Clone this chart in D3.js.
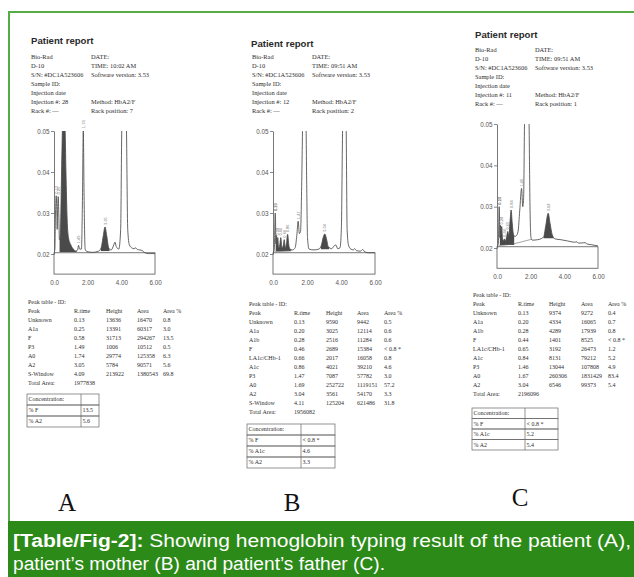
<!DOCTYPE html>
<html><head><meta charset="utf-8">
<script src="https://cdn.jsdelivr.net/npm/d3@7"></script>
<style>body{margin:0;background:#fff}</style>
</head><body><svg id="c" width="634" height="577"></svg>
<script>
// ---------------- DATA ----------------
const titleText = "Patient report";
const yTicks = [0.02, 0.03, 0.04, 0.05];
const yTickLabels = ["0.02", "0.03", "0.04", "0.05"];
const xTicks = [0, 2, 4, 6];
const xTickLabels = ["0.0", "2.00", "4.00", "6.00"];
const tableHeader = ["Peak", "R.time", "Height", "Area", "Area %"];
const panelLetters = ["A", "B", "C"];
const captionBold = "[Table/Fig-2]:";
const captionLine1 = " Showing hemoglobin typing result of the patient (A),";
const captionLine2 = "patient’s mother (B) and patient’s father (C).";

const headerLeftA = ["Bio-Rad", "D-10", "S/N: #DC1A523606", "Sample ID:", "Injection date", "Injection #: 28", "Rack #: —"];
const headerRightA = ["DATE:", "TIME:  10:02 AM", "Software version: 3.53", "", "", "Method: HbA2/F", "Rack position: 7"];
const headerLeftB = ["Bio-Rad", "D-10", "S/N: #DC1A523606", "Sample ID:", "Injection date", "Injection #: 12", "Rack #: —"];
const headerRightB = ["DATE:", "TIME:  09:51 AM", "Software version: 3.53", "", "", "Method: HbA2/F", "Rack position: 2"];
const headerLeftC = ["Bio-Rad", "D-10", "S/N: #DC1A523606", "Sample ID:", "Injection date", "Injection #: 11", "Rack #: —"];
const headerRightC = ["DATE:", "TIME:  09:51 AM", "Software version: 3.53", "", "", "Method: HbA2/F", "Rack position: 1"];

// chromatogram traces: [time (min), absorbance]
const traceA = [[0.00,0.0205],[0.05,0.0210],[0.09,0.0300],[0.13,0.0342],[0.17,0.0300],[0.19,0.0260],[0.21,0.0300],[0.25,0.0340],[0.29,0.0290],[0.32,0.0235],[0.37,0.0240],[0.45,0.0400],[0.51,0.0520],[0.58,0.0560],[0.65,0.0520],[0.71,0.0400],[0.78,0.0285],[0.86,0.0240],[1.00,0.0222],[1.15,0.0212],[1.30,0.0207],[1.40,0.0210],[1.46,0.0221],[1.52,0.0212],[1.63,0.0212],[1.69,0.0330],[1.74,0.0502],[1.79,0.0330],[1.85,0.0212],[1.95,0.0206],[2.30,0.0204],[2.65,0.0207],[2.80,0.0215],[2.93,0.0245],[3.03,0.0266],[3.13,0.0245],[3.25,0.0215],[3.40,0.0210],[3.55,0.0222],[3.62,0.0229],[3.70,0.0218],[3.85,0.0212],[3.96,0.0260],[4.03,0.0520],[4.12,0.0620],[4.22,0.0620],[4.30,0.0520],[4.38,0.0260],[4.48,0.0222],[4.62,0.0215],[4.75,0.0213],[4.85,0.0215],[4.95,0.0211],[5.10,0.0210],[5.25,0.0208],[5.40,0.0203],[5.60,0.0201],[6.00,0.0201]];
const traceB = [[0.00,0.0205],[0.08,0.0210],[0.11,0.0280],[0.13,0.0300],[0.15,0.0280],[0.17,0.0225],[0.20,0.0245],[0.24,0.0220],[0.28,0.0240],[0.33,0.0215],[0.40,0.0222],[0.46,0.0240],[0.52,0.0215],[0.60,0.0220],[0.66,0.0235],[0.72,0.0215],[0.80,0.0228],[0.86,0.0248],[0.93,0.0222],[1.00,0.0212],[1.15,0.0210],[1.30,0.0215],[1.40,0.0245],[1.48,0.0280],[1.55,0.0250],[1.62,0.0255],[1.70,0.0400],[1.76,0.0560],[1.85,0.0620],[1.93,0.0560],[1.98,0.0380],[2.03,0.0240],[2.12,0.0212],[2.40,0.0210],[2.70,0.0212],[2.85,0.0222],[2.95,0.0240],[3.05,0.0249],[3.14,0.0238],[3.25,0.0218],[3.45,0.0213],[3.60,0.0220],[3.70,0.0222],[3.80,0.0213],[3.94,0.0215],[4.02,0.0260],[4.10,0.0520],[4.20,0.0620],[4.30,0.0520],[4.36,0.0260],[4.44,0.0222],[4.58,0.0212],[4.72,0.0210],[4.80,0.0213],[4.92,0.0208],[5.15,0.0207],[5.28,0.0211],[5.38,0.0206],[5.60,0.0203],[6.00,0.0203]];
const traceC = [[0.00,0.0205],[0.08,0.0210],[0.11,0.0270],[0.13,0.0300],[0.15,0.0270],[0.17,0.0225],[0.20,0.0255],[0.24,0.0230],[0.28,0.0252],[0.33,0.0222],[0.40,0.0218],[0.44,0.0222],[0.50,0.0217],[0.58,0.0228],[0.64,0.0240],[0.70,0.0228],[0.77,0.0262],[0.84,0.0292],[0.90,0.0262],[0.97,0.0235],[1.05,0.0228],[1.15,0.0230],[1.25,0.0240],[1.35,0.0290],[1.46,0.0344],[1.53,0.0300],[1.58,0.0320],[1.64,0.0520],[1.72,0.0620],[1.82,0.0620],[1.90,0.0520],[1.96,0.0300],[2.02,0.0225],[2.10,0.0219],[2.40,0.0220],[2.65,0.0223],[2.78,0.0228],[2.90,0.0255],[3.04,0.0284],[3.15,0.0260],[3.28,0.0232],[3.45,0.0222],[3.80,0.0220],[4.20,0.0217],[4.60,0.0214],[4.75,0.0215],[4.82,0.0212],[5.00,0.0212],[5.25,0.0213],[5.32,0.0210],[5.60,0.0208],[6.00,0.0205]];

// shaded (integrated) regions: [start, end, baseline level]
const shadeA = [[0.33,1.35,0.0205],[2.78,3.30,0.0207]];
const shadeB = [[0.16,1.05,0.0206],[2.82,3.30,0.0211]];
const shadeC = [[0.17,1.02,0.0207],[2.76,3.42,0.0223]];
// integrator baseline drawn under peaks
const baseB = [[0.05,0.0205],[1.10,0.0209]];
const baseC = [[0.05,0.0205],[1.00,0.0210],[2.04,0.0221]];

const tableA = [
  ["Unknown","0.13","13636","16470","0.8"],
  ["A1a","0.25","13391","60317","3.0"],
  ["F","0.58","31713","294267","13.5"],
  ["P3","1.49","1006","10512","0.5"],
  ["A0","1.74","29774","125358","6.3"],
  ["A2","3.05","5784","90571","5.6"],
  ["S-Window","4.09","213922","1380543","69.8"]];
const totalA = "1977838";
const tableB = [
  ["Unknown","0.13","9590","9442","0.5"],
  ["A1a","0.20","3025","12114","0.6"],
  ["A1b","0.28","2516","11284","0.6"],
  ["F","0.46","2689","15384","< 0.8 *"],
  ["LA1c/CHb-1","0.66","2017","16058","0.8"],
  ["A1c","0.86","4021","39210","4.6"],
  ["P3","1.47","7087","57782","3.0"],
  ["A0","1.69","252722","1119151","57.2"],
  ["A2","3.04","3561","54170","3.3"],
  ["S-Window","4.11","125204","621486","31.8"]];
const totalB = "1956082";
const tableC = [
  ["Unknown","0.13","9374","9272","0.4"],
  ["A1a","0.20","4334","16065","0.7"],
  ["A1b","0.28","4289","17939","0.8"],
  ["F","0.44","1401","8525","< 0.8 *"],
  ["LA1c/CHb-1","0.65","3192","26473","1.2"],
  ["A1c","0.84","8131","79212","5.2"],
  ["P3","1.46","13044","107808","4.9"],
  ["A0","1.67","260306","1831429","83.4"],
  ["A2","3.04","6546","99373","5.4"]];
const totalC = "2196096";

const concA = [["Concentration:",""],["% F","13.5"],["% A2","5.6"]];
const concB = [["Concentration:",""],["% F","< 0.8 *"],["% A1c","4.6"],["% A2","3.3"]];
const concC = [["Concentration:",""],["% F","< 0.8 *"],["% A1c","5.2"],["% A2","5.4"]];

// ---------------- LAYOUT ----------------
const panels = [
  {key:"A", title:[31,44], hdr:{lx:31,rx:91,y:59}, chart:{x0:54,x6:155,y05:131,y02:254},
   table:{cols:[28,74,106,137,163], y:304}, conc:{x:27,xd:81,xr:99,y:394,rh:11}, letter:[67,511],
   trace:traceA, shade:shadeA, base:null, rows:tableA, total:totalA, concRows:concA, hl:headerLeftA, hr:headerRightA},
  {key:"B", title:[251,47], hdr:{lx:252,rx:312,y:59}, chart:{x0:273,x6:375,y05:131,y02:254},
   table:{cols:[249,294,326,357,384], y:306}, conc:{x:247,xd:301,xr:335,y:424,rh:11}, letter:[292,511],
   trace:traceB, shade:shadeB, base:baseB, rows:tableB, total:totalB, concRows:concB, hl:headerLeftB, hr:headerRightB},
  {key:"C", title:[475,38], hdr:{lx:475,rx:535,y:52}, chart:{x0:497,x6:598,y05:124,y02:248},
   table:{cols:[473,518,549,581,608], y:297}, conc:{x:472,xd:525,xr:558,y:408,rh:10.5}, letter:[520,506],
   trace:traceC, shade:shadeC, base:baseC, rows:tableC, total:totalC, concRows:concC, hl:headerLeftC, hr:headerRightC}
];

const svg = d3.select("#c");
const defs = svg.append("defs");
const serif = "'Liberation Serif','Times New Roman',serif";
const sans = "'Liberation Sans',Arial,sans-serif";
const ink = "#2e2e2e";

// frame
svg.append("path").attr("d","M9,521 V12 H634").attr("fill","none").attr("stroke","#55ab44").attr("stroke-width",2);

function drawPanel(p, idx){
  const g = svg.append("g");
  g.append("text").attr("x",p.title[0]).attr("y",p.title[1]).attr("font-family",sans)
    .attr("font-weight","bold").attr("font-size",9.6).attr("fill","#2a2a2a").text(titleText);
  p.hl.forEach((t,i)=> g.append("text").attr("x",p.hdr.lx).attr("y",p.hdr.y+i*9)
    .attr("font-family",serif).attr("font-size",6.4).attr("fill",ink).text(t));
  p.hr.forEach((t,i)=> g.append("text").attr("x",p.hdr.rx).attr("y",p.hdr.y+i*9)
    .attr("font-family",serif).attr("font-size",6.4).attr("fill",ink).text(t));

  const c = p.chart;
  const x = d3.scaleLinear().domain([0,6]).range([c.x0,c.x6]);
  const y = d3.scaleLinear().domain([0.02,0.05]).range([c.y02,c.y05]);
  const yBot = y(0.0151), yTop = y(0.0203);
  const clipId = "clip"+p.key;
  defs.append("clipPath").attr("id",clipId).append("rect")
    .attr("x",c.x0).attr("y",c.y05).attr("width",c.x6-c.x0).attr("height",yBot-c.y05);

  // box below baseline
  g.append("rect").attr("x",c.x0).attr("y",yTop).attr("width",c.x6-c.x0).attr("height",yBot-yTop)
    .attr("fill","none").attr("stroke","#555").attr("stroke-width",0.8);

  // shaded peaks
  p.shade.forEach((s,i)=>{
    const id = "sh"+p.key+i;
    defs.append("clipPath").attr("id",id).append("rect")
      .attr("x",x(s[0])).attr("y",c.y05).attr("width",x(s[1])-x(s[0])).attr("height",y(s[2])-c.y05);
    g.append("path").datum(p.trace).attr("clip-path",`url(#${id})`)
      .attr("d", d3.area().x(d=>x(d[0])).y0(y(s[2])).y1(d=>y(d[1])).curve(d3.curveMonotoneX))
      .attr("fill","#4a4a4a");
  });
  if (p.base) {
    g.append("path").datum(p.base).attr("d", d3.line().x(d=>x(d[0])).y(d=>y(d[1])))
      .attr("fill","none").attr("stroke","#666").attr("stroke-width",0.6);
  }
  g.append("path").datum(p.trace).attr("clip-path",`url(#${clipId})`)
    .attr("d", d3.line().x(d=>x(d[0])).y(d=>y(d[1])).curve(d3.curveMonotoneX))
    .attr("fill","none").attr("stroke","#4a4a4a").attr("stroke-width",0.85);

  // peak retention-time labels
  p.rows.forEach(r=>{
    const rt = +r[1];
    const near = p.trace.filter(d=>Math.abs(d[0]-rt)<=0.08);
    if (!near.length) return;
    const apex = near.reduce((a,b)=> b[1]>a[1]?b:a);
    if (apex[1] > 0.0508) return;
    const lx = x(apex[0]), ly = y(apex[1]) - 2;
    g.append("text").attr("transform",`translate(${lx+1.5},${ly}) rotate(-90)`)
      .attr("font-family",sans).attr("font-size",4).attr("fill","#777").text(r[1]);
  });

  // axes
  const ya = g.append("g").attr("transform",`translate(${c.x0},0)`)
    .call(d3.axisLeft(y).tickValues(yTicks).tickFormat((d,i)=>yTickLabels[i]).tickSize(3).tickSizeOuter(0).tickPadding(1.5));
  ya.select(".domain").attr("stroke","#555").attr("stroke-width",0.8);
  ya.selectAll(".tick line").attr("stroke","#555").attr("stroke-width",0.7);
  ya.selectAll("text").attr("font-family",sans).attr("font-size",6.3).attr("fill","#555");
  const xa = g.append("g").attr("transform",`translate(0,${yBot})`)
    .call(d3.axisBottom(x).tickValues(xTicks).tickFormat((d,i)=>xTickLabels[i]).tickSize(0).tickPadding(6));
  xa.select(".domain").remove();
  xa.selectAll("text").attr("font-family",sans).attr("font-size",6.3).attr("fill","#555");

  // peak table
  const t = p.table, fs = 6;
  const tt = (xx,yy,s)=> g.append("text").attr("x",xx).attr("y",yy).attr("font-family",serif)
    .attr("font-size",fs).attr("fill",ink).text(s);
  tt(t.cols[0], t.y, "Peak table  -  ID:");
  tableHeader.forEach((h,j)=> tt(t.cols[j], t.y+9, h));
  p.rows.forEach((r,i)=> r.forEach((v,j)=> tt(t.cols[j], t.y+18+i*9, v)));
  tt(t.cols[0], t.y+18+p.rows.length*9, "Total Area:");
  tt(t.cols[1], t.y+18+p.rows.length*9, p.total);

  // concentration box
  const k = p.conc;
  p.concRows.forEach((r,i)=>{
    const ry = k.y + i*k.rh;
    g.append("rect").attr("x",k.x).attr("y",ry).attr("width",k.xr-k.x).attr("height",k.rh)
      .attr("fill","none").attr("stroke","#666").attr("stroke-width",0.7);
    g.append("line").attr("x1",k.xd).attr("x2",k.xd).attr("y1",ry).attr("y2",ry+k.rh)
      .attr("stroke","#666").attr("stroke-width",0.7);
    tt(k.x+1.5, ry+k.rh*0.68, r[0]);
    tt(k.xd+1.5, ry+k.rh*0.68, r[1]);
  });

  svg.append("text").attr("x",p.letter[0]).attr("y",p.letter[1]).attr("text-anchor","middle")
    .attr("font-family",serif).attr("font-size",25).attr("fill","#111").text(panelLetters[idx]);
}
panels.forEach(drawPanel);

// caption band
svg.append("rect").attr("x",8).attr("y",521).attr("width",626).attr("height",56).attr("fill","#2b8a18");
const cap1 = svg.append("text").attr("x",13).attr("y",547).attr("font-family",sans)
  .attr("font-size",18).attr("fill","#fff").attr("textLength",618).attr("lengthAdjust","spacingAndGlyphs");
cap1.append("tspan").attr("font-weight","bold").text(captionBold);
cap1.append("tspan").text(captionLine1);
svg.append("text").attr("x",13).attr("y",570).attr("font-family",sans)
  .attr("font-size",18).attr("fill","#fff").attr("textLength",372).attr("lengthAdjust","spacingAndGlyphs")
  .text(captionLine2);
</script>
</body></html>
